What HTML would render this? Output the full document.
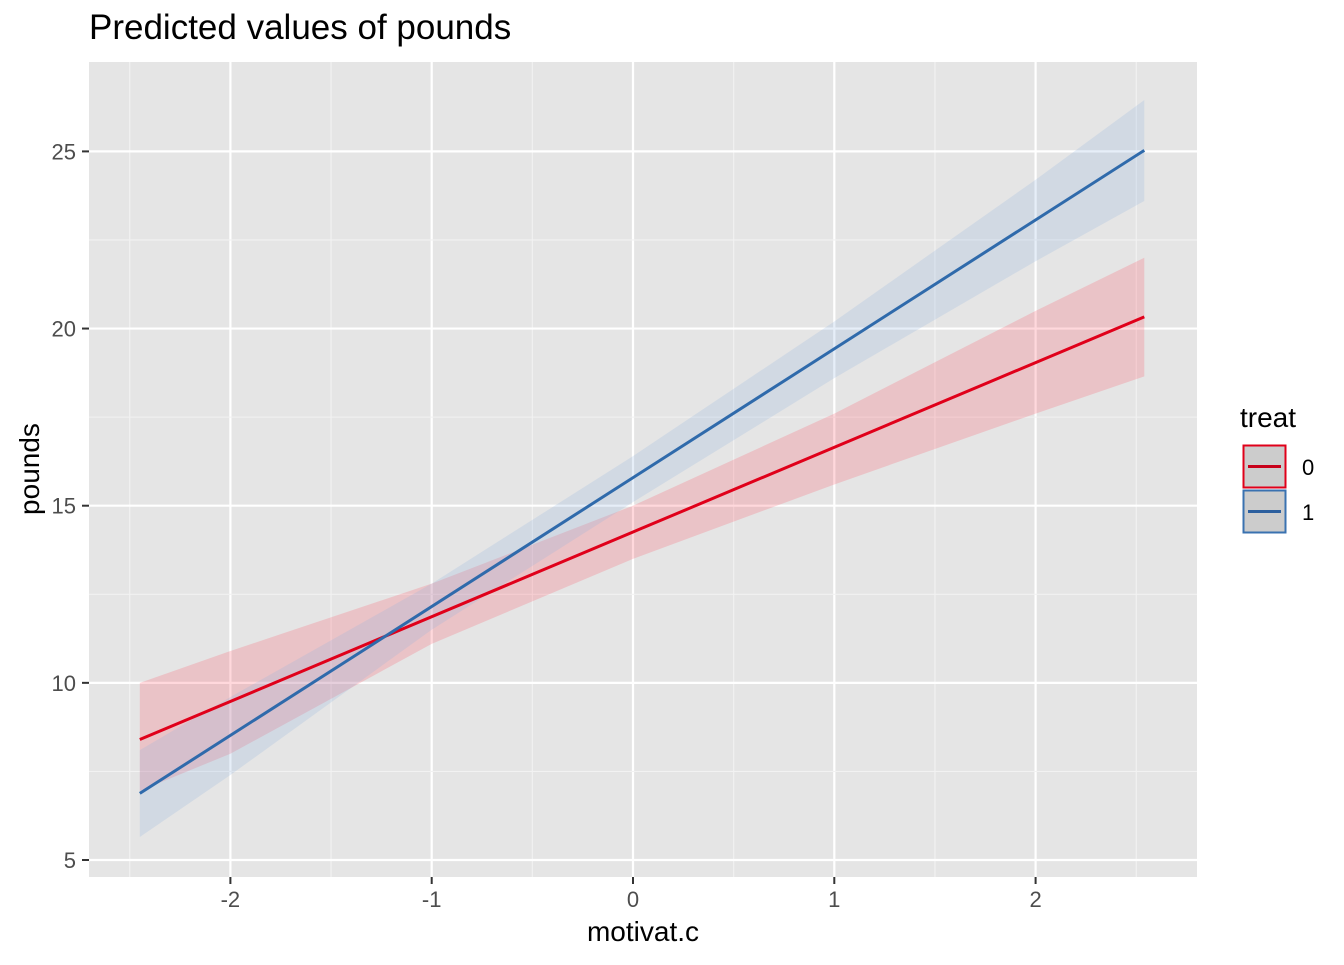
<!DOCTYPE html>
<html><head><meta charset="utf-8"><style>
body{margin:0;background:#fff;font-family:"Liberation Sans",Arial,sans-serif}
svg text{font-family:"Liberation Sans",Arial,sans-serif}
</style></head><body>
<svg id="c" width="1344" height="960" xmlns="http://www.w3.org/2000/svg">
<text x="89" y="39" font-size="35" fill="#000">Predicted values of pounds</text>
<rect x="89" y="62" width="1108" height="815" fill="#e5e5e5"/>
<g id="grid"></g><g id="bands"></g><g id="lines"></g><g id="axes"></g>
<text x="643" y="941" font-size="28" text-anchor="middle">motivat.c</text>
<text transform="translate(39,469) rotate(-90)" font-size="28" text-anchor="middle">pounds</text>
<g>
<text x="1240" y="427" font-size="28">treat</text>
<g>
<rect x="1243.5" y="445.5" width="42" height="42" fill="#cccccc" stroke="#e0001a" stroke-width="2"/>
<line x1="1248" y1="466.5" x2="1281" y2="466.5" stroke="#c8001a" stroke-width="3"/>
<text x="1302" y="475" font-size="22">0</text></g>
<g>
<rect x="1243.5" y="490.5" width="42" height="42" fill="#cccccc" stroke="#3a72b0" stroke-width="2"/>
<line x1="1248" y1="511.5" x2="1281" y2="511.5" stroke="#2c5f9e" stroke-width="3"/>
<text x="1302" y="520" font-size="22">1</text></g>
</g>
</svg>
<script>
const xTicks=[-2,-1,0,1,2];
const yTicks=[5,10,15,20,25];
const bandX=[-2.45,-2,-1,0,1,2,2.54];
const red0Lower=[6.95,8.0,11.1,13.5,15.6,17.6,18.65];
const red0Upper=[10.0,10.9,12.8,15.0,17.6,20.5,22.0];
const blue1Lower=[5.65,7.4,11.5,15.1,18.6,21.9,23.6];
const blue1Upper=[8.1,9.6,12.8,16.4,20.2,24.2,26.45];
const lineX=[-2.45,2.54];
const red0Fit=[8.4,20.33];
const blue1Fit=[6.88,25.03];
const sx=v=>633+(v)*201.3;
const sy=v=>860-(v-5)*35.43;
const NS='http://www.w3.org/2000/svg';
function mk(t,a,p){const e=document.createElementNS(NS,t);for(const k in a)e.setAttribute(k,a[k]);p.appendChild(e);return e;}
const grid=document.getElementById('grid'),axes=document.getElementById('axes');
for(let i=0;i<xTicks.length;i++){const x=sx(xTicks[i]);
 const g=mk('line',{x1:x,x2:x,y1:62,y2:877,stroke:'#fff','stroke-width':2.2},grid);
 
 const mx=sx(xTicks[i]-0.5);const m=mk('line',{x1:mx,x2:mx,y1:62,y2:877,stroke:'#f2f2f2','stroke-width':1.1},grid);
 
 mk('line',{x1:x,x2:x,y1:877,y2:884,stroke:'#333','stroke-width':2},axes);
 const t=mk('text',{x:x,y:907,'font-size':22,'text-anchor':'middle',fill:'#4d4d4d'},axes);t.textContent=xTicks[i];
 }
{const mx=sx(xTicks[xTicks.length-1]+0.5);const m=mk('line',{x1:mx,x2:mx,y1:62,y2:877,stroke:'#f2f2f2','stroke-width':1.1},grid);
 }
for(let i=0;i<yTicks.length;i++){const y=sy(yTicks[i]);
 const g=mk('line',{x1:89,x2:1197,y1:y,y2:y,stroke:'#fff','stroke-width':2.2},grid);
 
 if(i<yTicks.length-1){const my=sy(yTicks[i]+2.5);const m=mk('line',{x1:89,x2:1197,y1:my,y2:my,stroke:'#f2f2f2','stroke-width':1.1},grid);
 }
 mk('line',{x1:82,x2:89,y1:y,y2:y,stroke:'#333','stroke-width':2},axes);
 const t=mk('text',{x:76,y:y+8,'font-size':22,'text-anchor':'end',fill:'#4d4d4d'},axes);t.textContent=yTicks[i];
 }
const bands=document.getElementById('bands'),lines=document.getElementById('lines');
function band(lo,hi,col,name){let d='';bandX.forEach((x,i)=>d+=(i?'L':'M')+sx(x)+','+sy(hi[i]));
 for(let i=bandX.length-1;i>=0;i--)d+='L'+sx(bandX[i])+','+sy(lo[i]);d+='Z';
 const p=mk('path',{d:d,fill:col,'fill-opacity':0.22},bands);}
band(red0Lower,red0Upper,'#ff4d60','confidence-band-0');
band(blue1Lower,blue1Upper,'#8cb0e0','confidence-band-1');
function line(v,col,name){const p=mk('line',{x1:sx(lineX[0]),y1:sy(v[0]),x2:sx(lineX[1]),y2:sy(v[1]),stroke:col,'stroke-width':3},lines);
 }
line(red0Fit,'#e0001a','fit-line-0');
line(blue1Fit,'#2f6aab','fit-line-1');
</script>
</body></html>
